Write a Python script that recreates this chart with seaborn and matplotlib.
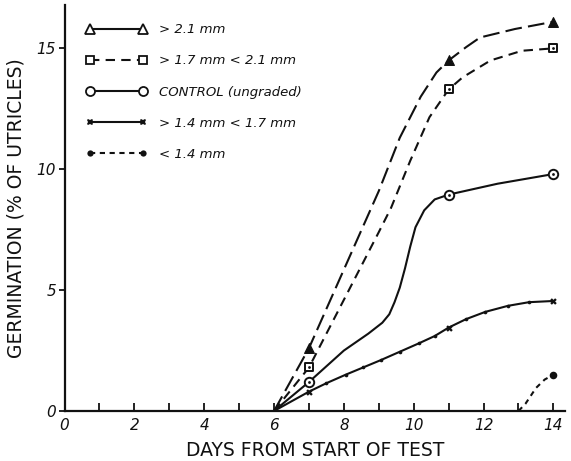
import numpy as np
import pandas as pd
import matplotlib
matplotlib.use("Agg")
import matplotlib.pyplot as plt
from matplotlib.lines import Line2D
import seaborn as sns

# ---- series labels -------------------------------------------------------
labels = ["> 2.1 mm", "> 1.7 mm < 2.1 mm", "CONTROL (ungraded)",
          "> 1.4 mm < 1.7 mm", "< 1.4 mm"]

# ---- observed germination (% of utricles) --------------------------------
obs_days = [7, 11, 14]
obs_gt21 = [2.6, 14.5, 16.1]
obs_gt17 = [1.8, 13.3, 15.0]
obs_control = [1.2, 8.95, 9.8]
obs_gt14 = [0.8, 3.45, 4.55]
obs_lt14_days = [14]
obs_lt14 = [1.5]

# ---- hand-drawn curves through the observations --------------------------
curve_gt21_days = [6, 7, 8, 9, 9.6, 10.2, 10.65, 11, 11.5, 11.9, 12.9, 14]
curve_gt21 = [0, 2.6, 5.85, 9.1, 11.3, 13.0, 14.0, 14.5, 15.05, 15.45, 15.8, 16.1]

curve_gt17_days = [6, 7, 8, 9, 9.35, 9.9, 10.45, 11, 11.4, 12.2, 13.1, 14]
curve_gt17 = [0, 1.8, 4.6, 7.4, 8.4, 10.35, 12.15, 13.3, 13.8, 14.5, 14.9, 15.0]

curve_control_days = [6, 7, 8, 8.7, 9.1, 9.3, 9.45, 9.6, 9.75, 9.9, 10.05,
                      10.3, 10.6, 11, 12.4, 14]
curve_control = [0, 1.2, 2.5, 3.2, 3.65, 4.0, 4.5, 5.1, 5.9, 6.8, 7.6,
                 8.3, 8.75, 8.95, 9.4, 9.8]

curve_gt14_days = [6, 7, 7.5, 8.05, 8.55, 9.05, 9.6, 10.15, 10.6, 11,
                   11.5, 12.05, 12.7, 13.3, 14]
curve_gt14 = [0, 0.8, 1.15, 1.5, 1.8, 2.1, 2.45, 2.8, 3.1, 3.45,
              3.8, 4.1, 4.35, 4.5, 4.55]

curve_lt14_days = [13, 13.2, 13.5, 13.75, 14]
curve_lt14 = [0, 0.3, 0.95, 1.3, 1.5]

curves = pd.concat([
    pd.DataFrame({"day": d, "pct": v, "series": s})
    for d, v, s in [
        (curve_gt21_days, curve_gt21, labels[0]),
        (curve_gt17_days, curve_gt17, labels[1]),
        (curve_control_days, curve_control, labels[2]),
        (curve_gt14_days, curve_gt14, labels[3]),
        (curve_lt14_days, curve_lt14, labels[4]),
    ]
], ignore_index=True)

points = pd.concat([
    pd.DataFrame({"day": d, "pct": v, "series": s})
    for d, v, s in [
        (obs_days, obs_gt21, labels[0]),
        (obs_days, obs_gt17, labels[1]),
        (obs_days, obs_control, labels[2]),
        (obs_days, obs_gt14, labels[3]),
        (obs_lt14_days, obs_lt14, labels[4]),
    ]
], ignore_index=True)

# ---- styling ------------------------------------------------------------
sns.set_theme(style="white")
plt.rcParams["font.family"] = ["DejaVu Sans"]
ink = "#111111"
dash_patterns = {
    labels[0]: (8, 3),
    labels[1]: (4.5, 3),
    labels[2]: None,
    labels[3]: None,
    labels[4]: (2.5, 2.2),
}

fig = plt.figure(figsize=(5.71, 4.61), dpi=100)
ax = fig.add_axes([0.113, 0.1085, 0.877, 0.880])

for s in labels:
    sub = curves[curves["series"] == s]
    n_before = len(ax.lines)
    sns.lineplot(data=sub, x="day", y="pct", color=ink, sort=False,
                 estimator=None, linewidth=1.5, legend=False, ax=ax)
    pattern = dash_patterns[s]
    for ln in ax.lines[n_before:]:
        if pattern is None:
            ln.set_linestyle("-")
        else:
            ln.set_linestyle((0, pattern))

# small dots strung along the 1.4-1.7 mm curve
beads = curves[(curves["series"] == labels[3]) & (~curves["day"].isin(obs_days + [6]))]
sns.scatterplot(data=beads, x="day", y="pct", color=ink, s=7, linewidth=0,
                legend=False, ax=ax)

# open markers with a centre dot, filled triangles
for s, m, size in [(labels[1], "s", 34), (labels[2], "o", 46)]:
    sub = points[points["series"] == s]
    sns.scatterplot(data=sub, x="day", y="pct", marker=m, s=size,
                    facecolor="white", edgecolor=ink, linewidth=1.4,
                    legend=False, ax=ax, zorder=5)
    sns.scatterplot(data=sub, x="day", y="pct", marker="o", s=4,
                    color=ink, linewidth=0, legend=False, ax=ax, zorder=6)
sub = points[points["series"] == labels[0]]
sns.scatterplot(data=sub, x="day", y="pct", marker="^", s=50, color=ink,
                linewidth=0.8, edgecolor=ink, legend=False, ax=ax, zorder=5)
sub = points[points["series"] == labels[3]]
sns.scatterplot(data=sub, x="day", y="pct", marker="X", s=22, color=ink,
                linewidth=0, legend=False, ax=ax, zorder=5)
sub = points[points["series"] == labels[4]]
sns.scatterplot(data=sub, x="day", y="pct", marker="o", s=30, color=ink,
                linewidth=0, legend=False, ax=ax, zorder=5)

# ---- axes ---------------------------------------------------------------
ax.set_xlim(0, 14.34)
ax.set_ylim(0, 16.78)
for side in ["top", "right"]:
    ax.spines[side].set_visible(False)
for side in ["left", "bottom"]:
    ax.spines[side].set_color(ink)
    ax.spines[side].set_linewidth(1.6)

ax.set_xticks(np.arange(0, 15, 2))
ax.set_xticks(np.arange(1, 14, 2), minor=True)
ax.set_yticks([0, 5, 10, 15])
ax.tick_params(axis="x", which="both", direction="in", length=6, width=1.3,
               color=ink, bottom=True, pad=5)
ax.tick_params(axis="y", which="major", direction="out", length=4, width=1.3,
               color=ink, left=True, pad=2)
for lab in ax.get_xticklabels() + ax.get_yticklabels():
    lab.set_fontstyle("italic")
    lab.set_fontsize(11)
    lab.set_color(ink)

ax.set_xlabel("DAYS FROM START OF TEST", fontsize=13.5, color=ink, labelpad=6)
ax.set_ylabel("GERMINATION (% OF UTRICLES)", fontsize=13.5, color=ink,
              labelpad=8)

# ---- legend -------------------------------------------------------------
handles = [
    Line2D([], [], color=ink, lw=1.5, marker="^", ms=6.5, mfc="white",
           mec=ink, mew=1.3),
    Line2D([], [], color=ink, lw=1.5, ls=(0, (4.5, 3)), marker="s", ms=5.5,
           mfc="white", mec=ink, mew=1.3),
    Line2D([], [], color=ink, lw=1.5, marker="o", ms=6.5, mfc="white",
           mec=ink, mew=1.3),
    Line2D([], [], color=ink, lw=1.5, marker="X", ms=4.5, mfc=ink, mew=0),
    Line2D([], [], color=ink, lw=1.5, ls=(0, (2.5, 2.2)), marker="o", ms=4.5,
           mfc=ink, mew=0),
]
leg = ax.legend(handles, labels, loc="upper left", bbox_to_anchor=(0.02, 0.985),
                frameon=False, numpoints=2, handlelength=4.6,
                handletextpad=0.9, labelspacing=1.38,
                prop={"style": "italic", "size": 9.5})
for t in leg.get_texts():
    t.set_color(ink)

fig.savefig("out.png", dpi=100, facecolor="white")
